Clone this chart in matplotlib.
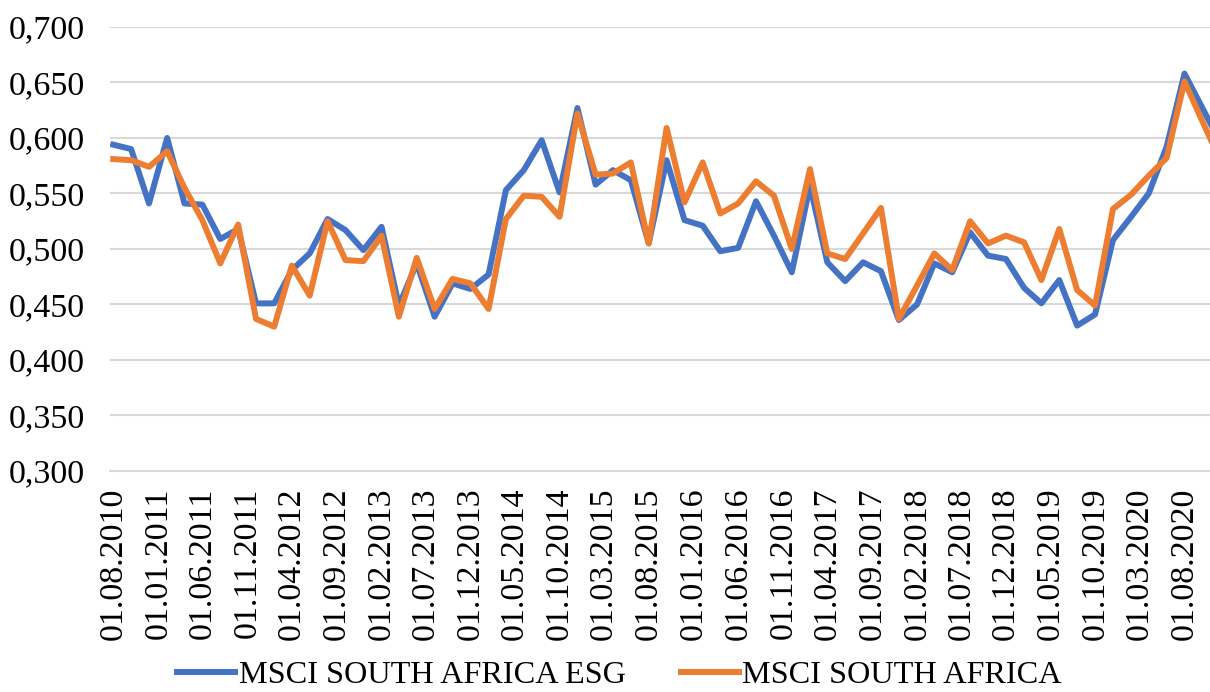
import numpy as np
import pandas as pd
import matplotlib
matplotlib.use('Agg')
from matplotlib import pyplot as plt
from matplotlib import dates as mdates
from matplotlib.ticker import FuncFormatter

#bimonthly observations starting 01.08.2010
startDate = '2010-08-01'
nPoints = 63

esgValues = [0.594, 0.590, 0.541, 0.600, 0.541, 0.540, 0.509, 0.518, 0.451, 0.451,
             0.481, 0.496, 0.527, 0.517, 0.499, 0.520, 0.449, 0.487, 0.439, 0.469,
             0.464, 0.477, 0.553, 0.571, 0.598, 0.551, 0.627, 0.558, 0.571, 0.562,
             0.505, 0.580, 0.526, 0.521, 0.498, 0.501, 0.543, 0.512, 0.479, 0.557,
             0.488, 0.471, 0.488, 0.480, 0.436, 0.450, 0.487, 0.479, 0.515, 0.494,
             0.491, 0.465, 0.451, 0.472, 0.431, 0.441, 0.508, 0.529, 0.550, 0.592,
             0.658, 0.627, 0.596]

indexValues = [0.581, 0.580, 0.574, 0.588, 0.555, 0.526, 0.487, 0.522, 0.437, 0.430,
               0.485, 0.458, 0.525, 0.490, 0.489, 0.512, 0.439, 0.492, 0.446, 0.473,
               0.469, 0.446, 0.527, 0.548, 0.547, 0.529, 0.622, 0.567, 0.568, 0.578,
               0.505, 0.609, 0.542, 0.578, 0.532, 0.541, 0.561, 0.548, 0.500, 0.572,
               0.496, 0.491, 0.514, 0.537, 0.437, 0.467, 0.496, 0.481, 0.525, 0.505,
               0.512, 0.506, 0.472, 0.518, 0.463, 0.449, 0.536, 0.549, 0.566, 0.582,
               0.651, 0.615, 0.580]

seriesNames = ['MSCI SOUTH AFRICA ESG', 'MSCI SOUTH AFRICA']
seriesColors = ['#4472C4', '#ED7D31']

dates = pd.date_range(startDate, periods=nPoints, freq='2MS')
#axis labels every 5 months
tickDates = pd.date_range('2010-08-01', '2020-08-01', freq='5MS')
yTicks = np.arange(0.300, 0.701, 0.050)

plt.rcParams['font.family'] = ['Liberation Serif', 'DejaVu Serif']
fontSize = 24.5

fig = plt.figure(figsize=(12.1, 6.92), dpi=100)
ax = fig.add_axes([0.0909, 0.3194, 0.9091, 0.6416])

ax.plot(dates, esgValues, color=seriesColors[0], linewidth=4.3, label=seriesNames[0], zorder=3)
ax.plot(dates, indexValues, color=seriesColors[1], linewidth=4.3, label=seriesNames[1], zorder=4)

ax.set_ylim(0.3, 0.7)
ax.set_yticks(yTicks)
ax.yaxis.set_major_formatter(FuncFormatter(lambda v, p: ('%.3f' % v).replace('.', ',')))
ax.set_xlim(pd.Timestamp('2010-07-21'), pd.Timestamp('2020-10-27'))
ax.set_xticks(tickDates)
ax.xaxis.set_major_formatter(mdates.DateFormatter('%d.%m.%Y'))

ax.grid(axis='y', color='#d9d9d9', linewidth=1.5, zorder=0)
for s in ['top', 'right', 'left']:
    ax.spines[s].set_visible(False)
ax.spines['bottom'].set_color('#d9d9d9')
ax.spines['bottom'].set_linewidth(1.5)
ax.tick_params(axis='both', length=0, labelsize=fontSize)
ax.tick_params(axis='y', pad=18)
ax.tick_params(axis='x', pad=12, labelrotation=90)

fig.legend(loc='center', bbox_to_anchor=(0.512, 0.024), ncol=2, frameon=False,
           fontsize=23.2, handlelength=1.8, handletextpad=0.12, columnspacing=1.7)

fig.savefig('out.png', dpi=100)
